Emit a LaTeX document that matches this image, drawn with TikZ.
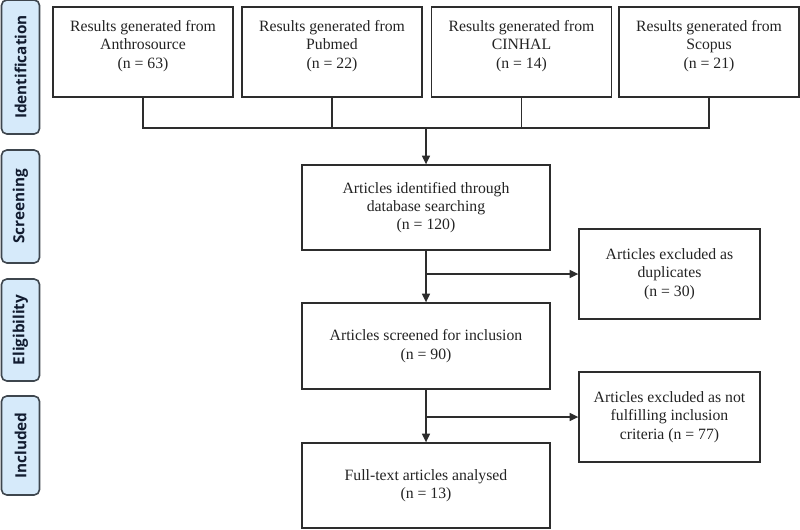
\documentclass[tikz,border=0pt]{standalone}
\usepackage{fontspec}
\setmainfont{Liberation Serif}
\newfontfamily\tabfont{Open Sans}
\usetikzlibrary{arrows.meta}
\definecolor{tabfill}{RGB}{214,234,250}
\definecolor{tabline}{RGB}{62,70,78}
\definecolor{tabtext}{RGB}{18,28,48}
\definecolor{boxline}{RGB}{45,45,45}
\definecolor{boxtext}{RGB}{35,35,35}

\begin{document}
\begin{tikzpicture}[x=0.75pt,y=0.75pt,yscale=-1,xscale=1,
  tab/.style={draw=tabline, fill=tabfill, line width=1.2pt, rounded corners=4pt, rotate=90, minimum height=28.5pt, inner sep=0pt, font=\tabfont\bfseries\fontsize{11.5}{13}\selectfont, text=tabtext},
  srcbox/.style={draw=boxline, line width=1pt, minimum width=135pt, minimum height=67.5pt, inner sep=0pt},
  srctext/.style={align=center, text=boxtext, font=\fontsize{11.8}{13.7}\selectfont, inner sep=0pt},
  flowbox/.style={draw=boxline, line width=1pt, align=center, text=boxtext, font=\fontsize{11.8}{13.7}\selectfont, inner sep=0pt},
  link/.style={draw=boxline, line width=1pt},
  arr/.style={link, -{Triangle[length=6.5pt,width=6pt]}}]
\useasboundingbox (0,0) rectangle (800,529);

% stage tabs
\node[tab, minimum width=100.5pt] (identification) at (20.5,67) {Identification};
\node[tab, minimum width=84.75pt] (screening) at (20.5,206.5) {Screening};
\node[tab, minimum width=76.5pt] (eligibility) at (20.5,330) {Eligibility};
\node[tab, minimum width=74.25pt] (included) at (20.5,445.5) {Included};

% database boxes
\node[srcbox] (anthro) at (143,52) {};
\node[srctext] (anthrotext) at (143,46) {Results generated from\\Anthrosource\\(n = 63)};
\node[srcbox] (pubmed) at (332,52) {};
\node[srctext] (pubmedtext) at (332,46) {Results generated from\\Pubmed\\(n = 22)};
\node[srcbox] (cinhal) at (521.5,52) {};
\node[srctext] (cinhaltext) at (521.5,46) {Results generated from\\CINHAL\\(n = 14)};
\node[srcbox] (scopus) at (709,52) {};
\node[srctext] (scopustext) at (709,46) {Results generated from\\Scopus\\(n = 21)};

% main column
\node[flowbox, minimum width=186pt, minimum height=63.75pt] (identified) at (426,207.5) {Articles identified through\\database searching\\(n = 120)};
\node[flowbox, minimum width=186pt, minimum height=64.5pt] (screened) at (426,346) {Articles screened for inclusion\\(n = 90)};
\node[flowbox, minimum width=186pt, minimum height=63.75pt] (analysed) at (426,485.5) {Full-text articles analysed\\(n = 13)};

% excluded boxes
\node[flowbox, minimum width=135.75pt, minimum height=67.5pt] (duplicates) at (669.5,274) {Articles excluded as\\duplicates\\(n = 30)};
\node[flowbox, minimum width=135.75pt, minimum height=67.5pt] (notfulfilling) at (669.5,417) {Articles excluded as not\\fulfilling inclusion\\criteria (n = 77)};

% bracket
\coordinate (bar) at (426,128);
\draw[link] (anthro.south) |- (scopus.south |- bar) -- (scopus.south);
\draw[link] (pubmed.south) -- (pubmed.south |- bar);
\draw[link] (cinhal.south) -- (cinhal.south |- bar);
\draw[arr] (bar) -- (identified.north);

% connectors
\draw[arr] (identified.south) -- (screened.north);
\draw[arr] (identified.south |- duplicates.west) -- (duplicates.west);
\draw[arr] (screened.south) -- (analysed.north);
\draw[arr] (screened.south |- notfulfilling.west) -- (notfulfilling.west);

\end{tikzpicture}
\end{document}
